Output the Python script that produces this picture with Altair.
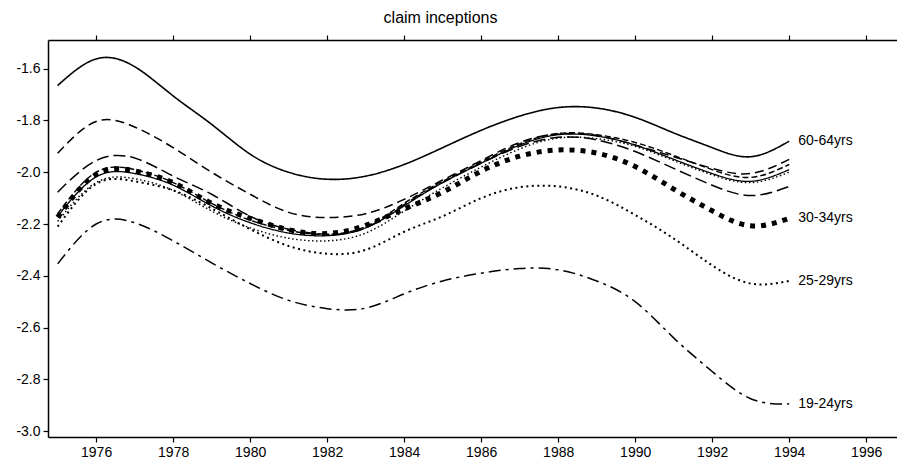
import altair as alt
import pandas as pd

years = list(range(1975, 1995))

s_6064 = [-1.665, -1.562, -1.592, -1.705, -1.815, -1.930, -2.000, -2.027, -2.015, -1.970,
          -1.905, -1.838, -1.783, -1.750, -1.752, -1.788, -1.848, -1.905, -1.940, -1.880]
s_5559 = [-1.927, -1.804, -1.825, -1.905, -2.000, -2.085, -2.155, -2.175, -2.160, -2.105,
          -2.030, -1.955, -1.885, -1.852, -1.858, -1.895, -1.940, -1.985, -2.005, -1.950]
s_5054 = [-2.077, -1.955, -1.945, -2.015, -2.085, -2.170, -2.220, -2.240, -2.215, -2.125,
          -2.040, -1.965, -1.900, -1.865, -1.875, -1.920, -1.985, -2.050, -2.090, -2.055]
s_4549 = [-2.160, -2.000, -1.990, -2.040, -2.120, -2.185, -2.225, -2.240, -2.210, -2.120,
          -2.035, -1.960, -1.890, -1.850, -1.855, -1.885, -1.935, -1.990, -2.020, -1.970]
s_4044 = [-2.170, -2.018, -2.005, -2.050, -2.130, -2.195, -2.235, -2.245, -2.215, -2.130,
          -2.040, -1.965, -1.895, -1.855, -1.860, -1.895, -1.950, -2.005, -2.035, -1.990]
s_3539 = [-2.190, -2.040, -2.025, -2.070, -2.150, -2.215, -2.255, -2.265, -2.235, -2.150,
          -2.060, -1.980, -1.910, -1.868, -1.870, -1.900, -1.955, -2.010, -2.040, -2.000]
s_3034 = [-2.174, -2.008, -1.995, -2.040, -2.120, -2.178, -2.222, -2.237, -2.205, -2.142,
          -2.077, -1.996, -1.938, -1.914, -1.926, -1.978, -2.065, -2.149, -2.207, -2.178]
s_2529 = [-2.210, -2.045, -2.035, -2.070, -2.140, -2.220, -2.285, -2.315, -2.300, -2.230,
          -2.170, -2.100, -2.058, -2.055, -2.090, -2.165, -2.256, -2.360, -2.430, -2.420]
s_1924 = [-2.354, -2.200, -2.195, -2.265, -2.350, -2.430, -2.495, -2.527, -2.525, -2.470,
          -2.420, -2.390, -2.372, -2.377, -2.420, -2.500, -2.640, -2.770, -2.875, -2.895]

series_names = ["60-64yrs", "55-59yrs", "50-54yrs", "45-49yrs", "40-44yrs",
                "35-39yrs", "30-34yrs", "25-29yrs", "19-24yrs"]
series_values = [s_6064, s_5559, s_5054, s_4549, s_4044, s_3539, s_3034, s_2529, s_1924]
labelled = ["60-64yrs", "30-34yrs", "25-29yrs", "19-24yrs"]

x_ticks = list(range(1976, 1997, 2))
y_ticks = [-3.0, -2.8, -2.6, -2.4, -2.2, -2.0, -1.8, -1.6]

styles = {
    "60-64yrs": ([1, 0], 1.6),
    "55-59yrs": ([9, 5], 1.5),
    "50-54yrs": ([12, 5], 1.5),
    "45-49yrs": ([6, 3], 1.4),
    "40-44yrs": ([1, 0], 1.3),
    "35-39yrs": ([1.5, 2.5], 1.4),
    "30-34yrs": ([5, 6], 5),
    "25-29yrs": ([2, 3.5], 2),
    "19-24yrs": ([12, 5, 3, 5], 1.5),
}

rows = []
for name, vals in zip(series_names, series_values):
    for yr, v in zip(years, vals):
        rows.append({"series": name, "year": yr, "value": v})
df = pd.DataFrame(rows)

lab_df = pd.DataFrame({
    "label": labelled,
    "year": [years[-1]] * len(labelled),
    "value": [series_values[series_names.index(n)][-1] for n in labelled],
})

font = "Liberation Sans"
xscale = alt.Scale(domain=[1974.75, 1996.8], nice=False, zero=False)
yscale = alt.Scale(domain=[-3.023, -1.489], nice=False, zero=False)

x_bottom = alt.Axis(values=x_ticks, labelExpr="format(datum.value, 'd')", title=None,
                    grid=False, orient="bottom")
x_top = alt.Axis(values=x_ticks, labels=False, title=None, grid=False, orient="top")
y_axis = alt.Axis(values=y_ticks, title=None, grid=False,
                  labelExpr="(datum.value < 0 ? '-' : '') + format(abs(datum.value), '.1f')")

layers = []
for i, name in enumerate(series_names):
    dash, w = styles[name]
    layers.append(
        alt.Chart(df).transform_filter(alt.datum.series == name)
        .mark_line(color="black", strokeDash=dash, strokeWidth=w, interpolate="natural")
        .encode(x=alt.X("year:Q", scale=xscale, axis=x_bottom if i == 0 else None),
                y=alt.Y("value:Q", scale=yscale, axis=y_axis))
    )

labels = alt.Chart(lab_df).mark_text(align="left", baseline="middle", dx=9,
                                     fontSize=14, font=font, color="black").encode(
    x=alt.X("year:Q", scale=xscale, axis=x_top),
    y=alt.Y("value:Q", scale=yscale, axis=y_axis),
    text="label:N",
)

chart = alt.layer(*layers, labels).resolve_axis(x="independent", y="shared").properties(
    width=849, height=397,
    padding={"left": 40, "top": 32, "right": 0, "bottom": 35},
    autosize=alt.AutoSizeParams(type="none"),
    title=alt.TitleParams("claim inceptions", fontSize=16, fontWeight="normal", font=font,
                          color="black", dx=-32, offset=8),
).configure_view(stroke=None).configure_axis(
    domainColor="black", domainWidth=1.5, tickColor="black", tickSize=5, tickWidth=1.2,
    labelFontSize=14, labelFont=font, labelColor="black", labelPadding=3,
)

chart.save("out.html", embed_options={"renderer": "svg", "actions": False})
